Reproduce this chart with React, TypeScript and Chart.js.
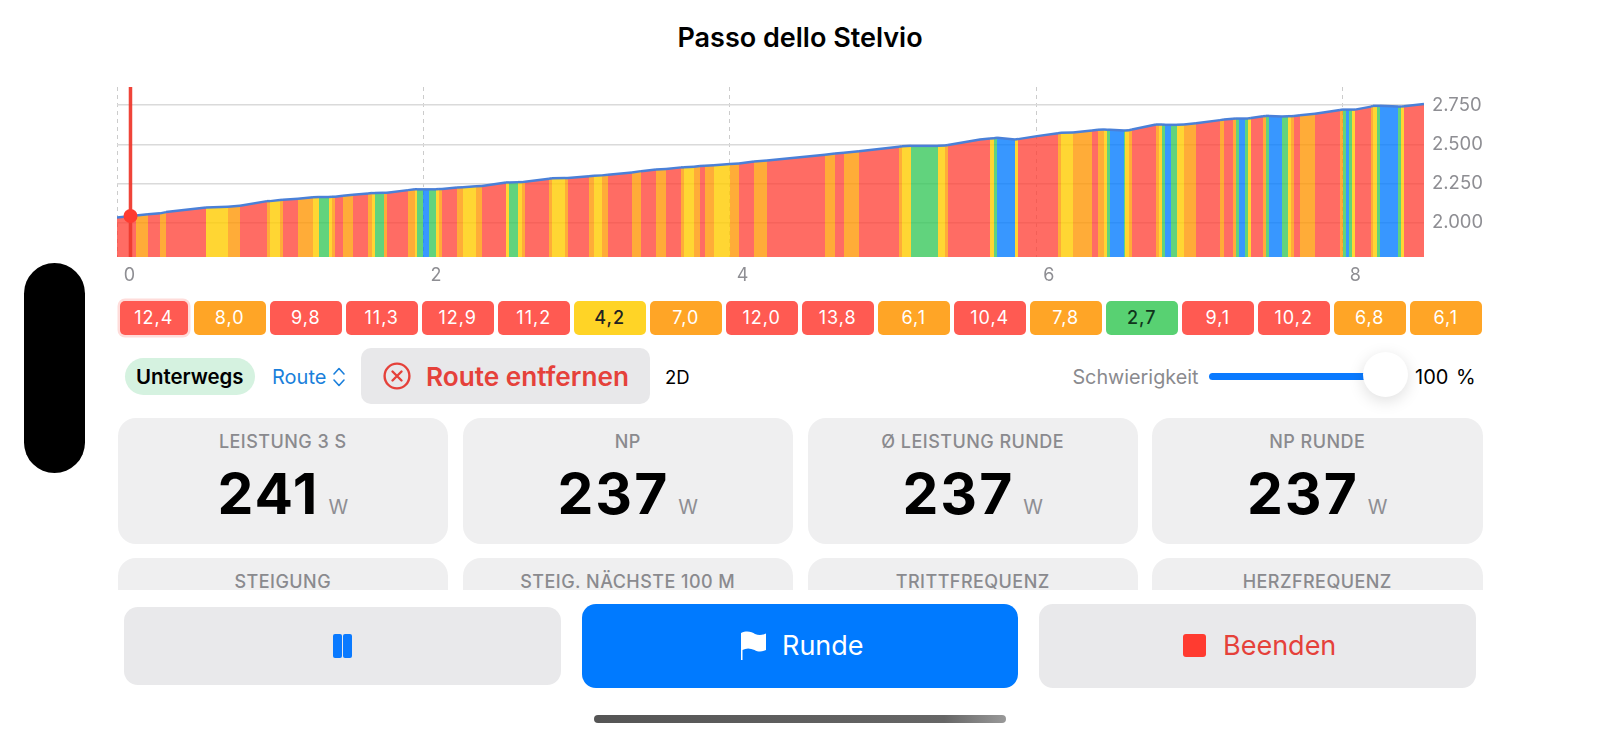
import React, { useRef, useEffect } from "react";
import Chart from "chart.js/auto";

const routeName = "Passo dello Stelvio";

// distance (km) at the start of every gradient block
const km = [
  0, 0.122, 0.202, 0.281, 0.32, 0.581, 0.726, 0.803, 0.981, 0.998,
  1.064, 1.081, 1.179, 1.281, 1.32, 1.381, 1.403, 1.42, 1.477, 1.542,
  1.638, 1.664, 1.681, 1.742, 1.76, 1.899, 1.945, 1.96, 1.999, 2.038,
  2.082, 2.103, 2.121, 2.221, 2.256, 2.343, 2.382, 2.538, 2.56, 2.619,
  2.641, 2.662, 2.819, 2.839, 2.923, 2.943, 3.08, 3.115, 3.163, 3.202,
  3.359, 3.422, 3.517, 3.583, 3.68, 3.697, 3.763, 3.802, 3.839, 3.898,
  4.002, 4.061, 4.159, 4.241, 4.62, 4.683, 4.742, 4.842, 5.101, 5.121,
  5.181, 5.36, 5.403, 5.423, 5.631, 5.697, 5.723, 5.742, 5.86, 5.88,
  6.001, 6.143, 6.162, 6.24, 6.362, 6.401, 6.44, 6.462, 6.48, 6.569,
  6.58, 6.602, 6.621, 6.778, 6.8, 6.821, 6.841, 6.88, 6.919, 6.963,
  7.041, 7.198, 7.222, 7.281, 7.303, 7.32, 7.364, 7.381, 7.401, 7.481,
  7.499, 7.52, 7.6, 7.64, 7.662, 7.679, 7.721, 7.82, 7.98, 8.0,
  8.02, 8.039, 8.059, 8.08, 8.181, 8.198, 8.22, 8.239, 8.361, 8.38,
  8.4, 8.529,
];

const elevation = [
  2034, 2047, 2054, 2060, 2068, 2098, 2102, 2109, 2138, 2138,
  2145, 2147, 2153, 2162, 2164, 2164, 2166, 2166, 2172, 2179,
  2187, 2189, 2189, 2191, 2191, 2208, 2213, 2213, 2213, 2213,
  2213, 2215, 2215, 2225, 2227, 2232, 2234, 2257, 2257, 2259,
  2259, 2261, 2280, 2283, 2285, 2285, 2297, 2300, 2302, 2306,
  2321, 2329, 2340, 2342, 2353, 2353, 2357, 2361, 2363, 2367,
  2374, 2378, 2391, 2397, 2433, 2442, 2446, 2456, 2484, 2488,
  2490, 2490, 2492, 2495, 2531, 2537, 2539, 2541, 2531, 2533,
  2552, 2571, 2573, 2575, 2588, 2592, 2594, 2593, 2592, 2588,
  2588, 2590, 2594, 2626, 2626, 2626, 2624, 2624, 2624, 2626,
  2634, 2654, 2658, 2662, 2664, 2664, 2664, 2664, 2668, 2679,
  2681, 2681, 2677, 2679, 2679, 2681, 2685, 2694, 2719, 2721,
  2721, 2721, 2721, 2721, 2740, 2745, 2745, 2745, 2740, 2740,
  2743, 2757,
];

// R red, O orange, Y yellow, G green, B blue
const grade = [
  "R", "O", "R", "O", "R", "Y", "O", "R", "O", "Y",
  "O", "R", "O", "Y", "G", "Y", "O", "R", "O", "R",
  "O", "Y", "G", "O", "R", "O", "Y", "G", "B", "G",
  "Y", "O", "R", "O", "Y", "O", "R", "Y", "G", "Y",
  "O", "R", "O", "Y", "O", "R", "O", "Y", "O", "R",
  "O", "R", "O", "R", "O", "Y", "O", "R", "O", "Y",
  "O", "R", "O", "R", "O", "R", "O", "R", "O", "Y",
  "G", "Y", "O", "R", "R", "Y", "G", "B", "Y", "R",
  "R", "O", "Y", "O", "R", "O", "Y", "G", "B", "G",
  "Y", "O", "R", "O", "Y", "G", "B", "G", "Y", "O",
  "R", "O", "R", "O", "G", "B", "G", "Y", "R", "O",
  "G", "B", "G", "Y", "O", "R", "O", "R", "O", "G",
  "B", "G", "Y", "R", "O", "Y", "G", "B", "G", "Y",
  "R", "R",
];

const cursorKm = 0.088;
const cursorElevation = 2043;

const lapLabels = ["12,4", "8,0", "9,8", "11,3", "12,9", "11,2", "4,2", "7,0", "12,0", "13,8", "6,1", "10,4", "7,8", "2,7", "9,1", "10,2", "6,8", "6,1"];
const lapGrades = ["R", "O", "R", "R", "R", "R", "Y", "O", "R", "R", "O", "R", "O", "G", "R", "R", "O", "O"];

const cardTitles = ["LEISTUNG 3 S", "NP", "Ø LEISTUNG RUNDE", "NP RUNDE"];
const cardValues = ["241", "237", "237", "237"];
const lowerCardTitles = ["STEIGUNG", "STEIG. NÄCHSTE 100 M", "TRITTFREQUENZ", "HERZFREQUENZ"];
const cardLefts = [117.5, 462.5, 807.5, 1152];

const fillColors: Record<string, string> = {
  R: "rgba(255,59,48,0.75)",
  O: "rgba(255,149,0,0.78)",
  Y: "rgba(255,204,0,0.8)",
  G: "rgba(52,199,89,0.78)",
  B: "rgba(0,122,255,0.78)",
};
const pillColors: Record<string, string> = { R: "#ff5a52", O: "#ffa526", Y: "#ffd426", G: "#58d172" };
const pillText: Record<string, string> = { R: "#fff", O: "#fff", Y: "#222", G: "#10351c" };

const FONT = "Inter, sans-serif";
const RED_TEXT = "#e5413a";

const box = (left: number, top: number, width: number, height: number): React.CSSProperties => ({
  position: "absolute",
  left,
  top,
  width,
  height,
});

const centered: React.CSSProperties = { display: "flex", alignItems: "center", justifyContent: "center" };

const ElevationChart = () => {
  const chartRef = useRef<HTMLCanvasElement>(null);

  useEffect(() => {
    if (!chartRef.current) return;
    const yMin = 1782;
    const yMax = 2865;
    const chart = new Chart(chartRef.current, {
      type: "line",
      data: {
        datasets: [
          {
            type: "scatter",
            data: [{ x: cursorKm, y: cursorElevation }],
            pointRadius: 7,
            pointHoverRadius: 7,
            pointBackgroundColor: "#ff3b30",
            pointBorderWidth: 0,
            showLine: false,
            order: 0,
          },
          {
            data: [
              { x: cursorKm, y: yMin },
              { x: cursorKm, y: yMax },
            ],
            borderColor: "rgba(238,58,46,0.95)",
            borderWidth: 3.5,
            pointRadius: 0,
            fill: false,
            order: 1,
          },
          {
            data: km.map((d, i) => ({ x: d, y: elevation[i] })),
            borderColor: "#4a80d8",
            borderWidth: 2.5,
            pointRadius: 0,
            tension: 0,
            fill: "start",
            backgroundColor: fillColors.R,
            segment: {
              backgroundColor: (ctx: any) => fillColors[grade[ctx.p0DataIndex]],
            },
            order: 2,
          },
        ],
      } as any,
      options: {
        animation: false,
        responsive: true,
        maintainAspectRatio: false,
        layout: { padding: { left: 17, right: 0, top: 17, bottom: 0 } },
        plugins: {
          legend: { display: false },
          tooltip: { enabled: false },
          title: { display: false },
        },
        scales: {
          x: {
            type: "linear",
            min: 0,
            max: 8.529,
            afterFit: (scale: any) => {
              scale.height = 33;
              scale.paddingLeft = 0;
              scale.paddingRight = 0;
            },
            border: { display: false, dash: [4, 4] },
            grid: { color: "#cccccc", lineWidth: 1, drawTicks: false },
            ticks: {
              stepSize: 2,
              includeBounds: false,
              labelOffset: 12.5,
              maxRotation: 0,
              padding: 8,
              color: "#8e8e93",
              font: { family: "Inter", size: 18 },
            },
          },
          y: {
            position: "right",
            min: yMin,
            max: yMax,
            afterFit: (scale: any) => {
              scale.width = 76;
              scale.paddingTop = 0;
              scale.paddingBottom = 0;
            },
            border: { display: false },
            grid: { color: "#dadada", lineWidth: 1.5, drawTicks: false },
            ticks: {
              stepSize: 250,
              includeBounds: false,
              padding: 8,
              color: "#8e8e93",
              font: { family: "Inter", size: 18.5 },
              callback: (v: any) => (Number(v) / 1000).toFixed(3),
            },
          },
        },
      } as any,
      plugins: [
        {
          // snap block edges to whole pixels, otherwise pale seams show between fills
          id: "snapEdges",
          afterDatasetsUpdate: (c: any) => {
            c.getDatasetMeta(2).data.forEach((p: any) => {
              p.x = Math.round(p.x);
            });
          },
        },
      ],
    });
    return () => chart.destroy();
  }, []);

  return (
    <div style={box(100, 70, 1400, 220)}>
      <canvas ref={chartRef} />
    </div>
  );
};

const cardTitleStyle: React.CSSProperties = {
  ...box(0, 13, 330.5, 22),
  ...centered,
  fontSize: 18,
  fontWeight: 500,
  color: "#8a8a8e",
  letterSpacing: 0.45,
  whiteSpace: "nowrap",
};

const StatCard = ({ left, title, value }: { left: number; title: string; value: string }) => (
  <div style={{ ...box(left, 417.5, 330.5, 126.5), background: "#efeff0", borderRadius: 18 }}>
    <div style={cardTitleStyle}>{title}</div>
    <div style={{ ...box(0, 41, 330.5, 70), display: "flex", alignItems: "baseline", justifyContent: "center" }}>
      <span style={{ fontSize: 57, fontWeight: 700, color: "#000", lineHeight: "70px", letterSpacing: 2 }}>{value}</span>
      <span style={{ fontSize: 20, color: "#8e8e93", marginLeft: 9 }}>W</span>
    </div>
  </div>
);

const App = () => (
  <div style={{ position: "fixed", left: 0, top: 0, width: 1600, height: 736, background: "#fff", overflow: "hidden", fontFamily: FONT }}>
    <div style={{ ...box(0, 18, 1600, 38), ...centered, fontSize: 27, fontWeight: 600, color: "#000" }}>{routeName}</div>

    <ElevationChart />

    <div style={{ ...box(23.5, 262.5, 61, 210), background: "#000", borderRadius: 31 }} />

    {lapLabels.map((t, i) => (
      <div
        key={i}
        style={{
          ...box(i === 0 ? 119.5 : 117.5 + 76 * i, 301, i === 0 ? 68.5 : 72.5, 33.5),
          ...centered,
          background: pillColors[lapGrades[i]],
          color: pillText[lapGrades[i]],
          borderRadius: 5,
          fontSize: 18,
          fontWeight: lapGrades[i] === "Y" || lapGrades[i] === "G" ? 500 : 400,
          letterSpacing: 1,
          boxShadow: i === 0 ? "0 0 0 2.5px #ffdcda" : undefined,
        }}
      >
        {t}
      </div>
    ))}

    <div style={{ ...box(124.5, 357.5, 130.5, 37), ...centered, background: "#d5f2e0", borderRadius: 19, fontSize: 20.4, fontWeight: 600, color: "#000" }}>Unterwegs</div>
    <div style={{ ...box(272, 364, 60, 26), display: "flex", alignItems: "center", fontSize: 20, color: "#1a7fdb" }}>Route</div>
    <svg style={box(332, 366, 14, 22)} viewBox="0 0 14 22" fill="none" stroke="#1a7fdb" strokeWidth="1.6" strokeLinecap="round" strokeLinejoin="round">
      <path d="M2 8 L7 2.5 L12 8" />
      <path d="M2 14 L7 19.5 L12 14" />
    </svg>
    <div style={{ ...box(361, 348, 289, 55.5), background: "#e8e8ea", borderRadius: 10 }} />
    <svg style={box(383, 362, 28, 28)} viewBox="0 0 28 28" fill="none" stroke={RED_TEXT} strokeWidth="2.4" strokeLinecap="round">
      <circle cx="14" cy="14" r="12.4" />
      <path d="M9.5 9.5 L18.5 18.5 M18.5 9.5 L9.5 18.5" />
    </svg>
    <div style={{ ...box(426, 358, 224, 36), display: "flex", alignItems: "center", fontSize: 26.2, fontWeight: 600, color: RED_TEXT, whiteSpace: "nowrap" }}>Route entfernen</div>
    <div style={{ ...box(665, 364, 40, 26), display: "flex", alignItems: "center", fontSize: 18.5, color: "#000" }}>2D</div>

    <div style={{ ...box(1040, 364, 158.5, 26), display: "flex", alignItems: "center", justifyContent: "flex-end", fontSize: 19.8, color: "#8a8a8e" }}>Schwierigkeit</div>
    <div style={{ ...box(1208.5, 373, 170, 7), background: "#0a7aff", borderRadius: 4 }} />
    <div style={{ ...box(1362.5, 352, 45, 45), background: "#fff", borderRadius: "50%", boxShadow: "0 4px 16px rgba(0,0,0,0.13)" }} />
    <div style={{ ...box(1415, 364, 70, 26), display: "flex", alignItems: "center", fontSize: 20, wordSpacing: 2, color: "#000", whiteSpace: "nowrap" }}>100 %</div>

    {cardTitles.map((t, i) => (
      <StatCard key={t} left={cardLefts[i]} title={t} value={cardValues[i]} />
    ))}

    <div style={{ ...box(0, 557.5, 1600, 32.5), overflow: "hidden" }}>
      {lowerCardTitles.map((t, i) => (
        <div key={t} style={{ ...box(cardLefts[i], 0, 330.5, 126), background: "#efeff0", borderRadius: 18 }}>
          <div style={cardTitleStyle}>{t}</div>
        </div>
      ))}
    </div>

    <div style={{ ...box(124, 606.5, 436.5, 78), background: "#e9e9eb", borderRadius: 14 }} />
    <div style={{ ...box(333, 634, 8.5, 24), background: "#0a7aff", borderRadius: 2 }} />
    <div style={{ ...box(343, 634, 8.5, 24), background: "#0a7aff", borderRadius: 2 }} />

    <div style={{ ...box(581.5, 603.5, 436.5, 84), background: "#007aff", borderRadius: 14 }} />
    <svg style={box(740, 631, 27, 29)} viewBox="0 0 27 29" fill="#fff">
      <path d="M1 2 C7 -1 12 1 15 3 C19 5 23 4 26 2.5 L26 19 C22 21 18 21 14.5 19 C10 17 6 17 2.5 19 L2.5 29 L1 29 Z" />
    </svg>
    <div style={{ ...box(782, 625, 100, 40), display: "flex", alignItems: "center", fontSize: 27, color: "#fff" }}>Runde</div>

    <div style={{ ...box(1039, 603.5, 437, 84), background: "#e9e9eb", borderRadius: 14 }} />
    <div style={{ ...box(1182.5, 634, 23, 23), background: "#ff3b30", borderRadius: 3 }} />
    <div style={{ ...box(1223, 625, 130, 40), display: "flex", alignItems: "center", fontSize: 27, color: RED_TEXT }}>Beenden</div>

    <div style={{ ...box(594, 714.5, 412, 8.5), background: "linear-gradient(90deg,#555 0%,#666 85%,#999 100%)", borderRadius: 4 }} />
  </div>
);

export default App;
